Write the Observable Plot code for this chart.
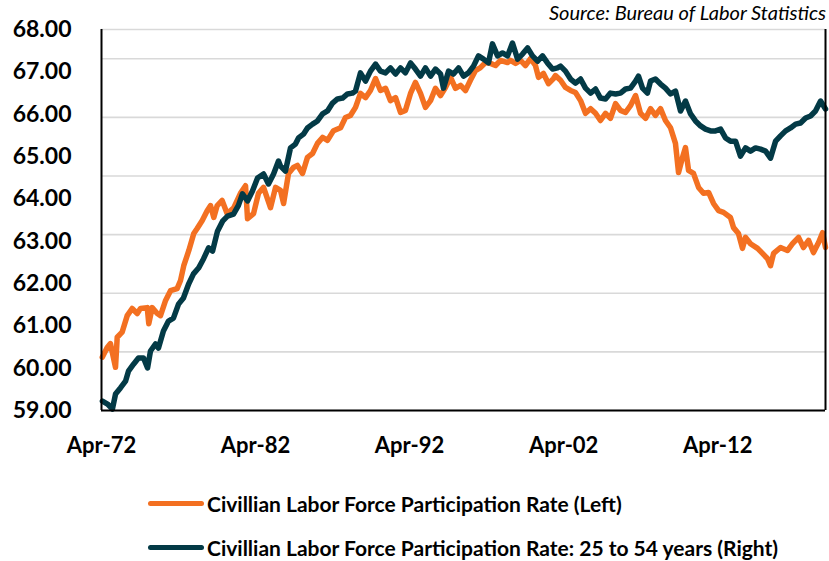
<!DOCTYPE html>
<html><head><meta charset="utf-8">
<script src="https://cdn.jsdelivr.net/npm/d3@7"></script>
<script src="https://cdn.jsdelivr.net/npm/@observablehq/plot@0.6"></script>
<style>
body{margin:0;background:#fff;font-family:Lato,"Open Sans",sans-serif;}
#wrap{position:relative;width:829px;height:561px;overflow:hidden;}
#source{position:absolute;right:3px;top:0px;font-style:italic;font-size:20px;color:#000;font-family:Lato,sans-serif;}
.row{position:absolute;left:148px;height:26px;display:flex;align-items:center;font-weight:bold;font-size:21px;color:#000;white-space:nowrap;}
.sw{width:56px;height:5px;border-radius:3px;margin-right:3px;}
</style></head>
<body><div id="wrap"><div id="chart"></div><div id="source">Source: Bureau of Labor Statistics</div><div id="legend"></div></div>
<script>
// ---- data ----
const seriesNames = ["Civillian Labor Force Participation Rate (Left)", "Civillian Labor Force Participation Rate: 25 to 54 years (Right)"];
const seriesColors = ["#F37021", "#033A46"];

const xTickYears = [1972.25, 1982.25, 1992.25, 2002.25, 2012.25];
const xTickLabels = ["Apr-72", "Apr-82", "Apr-92", "Apr-02", "Apr-12"];
const leftTicks = [59, 60, 61, 62, 63, 64, 65, 66, 67, 68];
const rightGridTicks = [72, 74, 76, 78, 80, 82, 84, 85];

const orangeYears = [1972.30,1972.62,1972.83,1973.16,1973.27,1973.59,1973.92,1974.24,1974.57,1974.78,
1975.22,1975.32,1975.54,1975.87,1976.08,1976.41,1976.73,1977.16,1977.38,1977.59,
1977.92,1978.24,1978.46,1978.79,1979.11,1979.33,1979.54,1979.76,1980.08,1980.41,
1980.84,1981.27,1981.60,1981.73,1982.12,1982.44,1982.77,1983.22,1983.55,1983.87,
1984.07,1984.39,1984.71,1984.97,1985.30,1985.62,1985.95,1986.27,1986.60,1986.92,
1987.31,1987.77,1988.09,1988.41,1988.74,1989.06,1989.39,1989.71,1990.04,1990.36,
1990.69,1991.01,1991.34,1991.66,1991.98,1992.31,1992.63,1992.96,1993.28,1993.61,
1993.93,1994.26,1994.58,1994.91,1995.23,1995.56,1995.88,1996.20,1996.53,1996.85,
1997.18,1997.50,1997.83,1998.15,1998.61,1998.80,1999.13,1999.45,1999.77,2000.10,
2000.42,2000.62,2000.94,2001.27,2001.59,2001.72,2002.05,2002.37,2002.70,2003.02,
2003.35,2003.67,2004.00,2004.32,2004.64,2004.97,2005.29,2005.62,2005.94,2006.27,
2006.59,2006.92,2007.24,2007.57,2007.89,2008.21,2008.54,2008.86,2009.19,2009.51,
2009.71,2009.97,2010.16,2010.36,2010.68,2011.01,2011.33,2011.66,2011.98,2012.31,
2012.63,2013.08,2013.28,2013.60,2013.86,2014.06,2014.38,2014.84,2015.16,2015.48,
2015.68,2015.88,2016.33,2016.78,2017.11,2017.50,2017.82,2018.15,2018.47,2018.80,
2019.06,2019.25];
const orangeValues = [60.26,60.49,60.58,60.02,60.73,60.85,61.24,61.41,61.29,61.41,
61.43,61.05,61.43,61.29,61.24,61.60,61.83,61.88,62.07,62.42,
62.78,63.18,63.30,63.49,63.72,63.84,63.56,63.84,63.96,63.65,
63.79,64.13,64.31,63.53,63.65,64.13,64.27,63.79,64.27,64.20,
63.89,64.60,64.74,64.79,64.60,64.98,65.07,65.31,65.45,65.38,
65.61,65.68,65.92,65.97,66.16,66.49,66.39,66.56,66.84,66.56,
66.61,66.32,66.39,66.04,66.09,66.49,66.75,66.49,66.16,66.32,
66.61,66.44,66.63,66.87,66.61,66.68,66.56,66.80,67.03,67.10,
67.22,67.20,67.15,67.27,67.22,67.27,67.20,67.27,67.15,67.31,
67.15,66.87,66.96,66.72,66.84,66.91,66.80,66.63,66.56,66.51,
66.32,66.02,66.13,66.02,65.85,66.02,65.90,66.25,66.09,66.04,
66.20,66.44,66.02,65.90,66.13,65.97,66.13,65.85,65.68,65.31,
64.62,64.98,65.21,64.67,64.60,64.27,64.13,64.15,63.89,63.72,
63.68,63.56,63.32,63.18,62.83,63.09,62.94,62.83,62.71,62.59,
62.42,62.71,62.85,62.78,62.94,63.09,62.85,63.02,62.73,62.97,
63.20,62.85];

const darkYears = [1972.31,1972.64,1972.96,1973.16,1973.48,1973.81,1974.00,1974.33,1974.65,1974.98,
1975.24,1975.43,1975.76,1975.95,1976.27,1976.60,1976.92,1977.25,1977.57,1977.90,
1978.22,1978.55,1978.87,1979.20,1979.46,1979.78,1980.11,1980.43,1980.82,1981.14,
1981.40,1981.73,1982.05,1982.38,1982.77,1983.09,1983.42,1983.74,1983.87,1984.19,
1984.52,1984.84,1985.04,1985.36,1985.62,1985.95,1986.27,1986.60,1986.92,1987.25,
1987.57,1987.90,1988.22,1988.54,1988.74,1989.06,1989.39,1989.71,1990.04,1990.36,
1990.69,1991.01,1991.34,1991.66,1991.98,1992.31,1992.63,1992.96,1993.28,1993.61,
1993.93,1994.26,1994.45,1994.78,1995.10,1995.43,1995.75,1996.07,1996.40,1996.72,
1997.05,1997.37,1997.63,1997.96,1998.28,1998.61,1998.93,1999.26,1999.58,1999.91,
2000.23,2000.56,2000.88,2001.20,2001.53,2001.85,2002.05,2002.37,2002.70,2003.02,
2003.35,2003.67,2004.00,2004.32,2004.64,2004.97,2005.29,2005.62,2005.94,2006.27,
2006.59,2006.92,2007.11,2007.37,2007.69,2007.89,2008.21,2008.54,2008.86,2009.19,
2009.51,2009.84,2010.16,2010.49,2010.81,2011.14,2011.46,2011.79,2012.11,2012.44,
2012.76,2013.08,2013.41,2013.73,2014.06,2014.38,2014.71,2015.03,2015.36,2015.68,
2016.01,2016.33,2016.66,2016.98,2017.31,2017.63,2017.96,2018.28,2018.60,2018.93,
2019.25];
const darkValues = [72.32,72.22,72.05,72.56,72.77,73.00,73.34,73.58,73.79,73.79,
73.45,74.03,74.27,74.13,74.71,75.05,75.15,75.63,75.84,76.31,
76.66,76.86,77.17,77.55,77.44,78.12,78.46,78.63,78.70,79.00,
79.39,79.15,79.49,79.93,80.07,79.73,80.07,80.51,80.34,80.17,
80.96,81.09,81.30,81.43,81.64,81.77,81.88,82.12,82.22,82.49,
82.63,82.66,82.80,82.83,82.90,83.52,83.24,83.58,83.82,83.58,
83.52,83.69,83.48,83.69,83.52,83.86,83.65,83.41,83.69,83.41,
83.65,83.48,83.00,83.58,83.48,83.69,83.41,83.52,83.75,84.10,
83.99,83.86,84.51,84.10,84.20,84.10,84.54,83.99,84.16,84.37,
84.10,83.92,84.10,83.86,83.65,83.69,83.75,83.58,83.31,83.17,
83.31,83.00,82.83,82.97,82.66,82.63,82.83,82.80,82.83,82.97,
83.00,83.24,83.41,83.00,82.83,83.24,83.31,83.14,83.00,82.80,
82.90,82.22,82.56,82.12,81.88,81.71,81.60,81.54,81.54,81.60,
81.30,81.19,81.19,80.68,80.96,80.85,80.96,80.92,80.85,80.61,
81.19,81.37,81.54,81.64,81.77,81.81,81.98,82.05,82.22,82.56,
82.29];

// ---- scales (left axis 59..68, hidden right axis 72..85) ----
const leftDomain = [59, 68];
const rightDomain = [72, 85];
const toLeft = r => leftDomain[0] + (r - rightDomain[0]) * (leftDomain[1] - leftDomain[0]) / (rightDomain[1] - rightDomain[0]);
const xDomain = [1972.25, 2019.25];

const orange = orangeYears.map((t, i) => ({t, v: orangeValues[i]}));
const dark = darkYears.map((t, i) => ({t, v: toLeft(darkValues[i])}));

const chart = Plot.plot({
  width: 829,
  height: 460,
  marginLeft: 101,
  marginRight: 4,
  marginTop: 29,
  marginBottom: 50,
  style: {fontFamily: "Lato, 'Open Sans', sans-serif", background: "#fff", color: "#000"},
  x: {domain: xDomain, axis: null},
  y: {domain: leftDomain, axis: null},
  marks: [
    Plot.ruleY(rightGridTicks.map(toLeft), {stroke: "#d9d9d9", strokeWidth: 1.6}),
    Plot.line(orange, {x: "t", y: "v", stroke: seriesColors[0], strokeWidth: 5.5, strokeLinejoin: "round", strokeLinecap: "round"}),
    Plot.line(dark, {x: "t", y: "v", stroke: seriesColors[1], strokeWidth: 5.5, strokeLinejoin: "round", strokeLinecap: "round"}),
    Plot.ruleX([xDomain[0]], {stroke: "#000", strokeWidth: 2}),
    Plot.ruleX([xDomain[1]], {stroke: "#000", strokeWidth: 2}),
    Plot.ruleY([leftDomain[0]], {stroke: "#000", strokeWidth: 2}),
    Plot.axisY({ticks: leftTicks, tickFormat: d => d.toFixed(2), tickSize: 0, tickPadding: 30, fontSize: 23, fontWeight: "bold", label: null}),
    Plot.axisX({ticks: xTickYears, tickFormat: d => xTickLabels[xTickYears.indexOf(d)], tickSize: 0, tickPadding: 27, fontSize: 22, fontWeight: "bold", label: null})
  ]
});
document.getElementById("chart").appendChild(chart);

const legend = document.getElementById("legend");
const rowCenters = [503, 547];
seriesNames.forEach((name, i) => {
  const row = document.createElement("div");
  row.className = "row";
  row.style.top = (rowCenters[i] - 13) + "px";
  const sw = document.createElement("div");
  sw.className = "sw";
  sw.style.background = seriesColors[i];
  row.appendChild(sw);
  const tx = document.createElement("span");
  tx.textContent = name;
  row.appendChild(tx);
  legend.appendChild(row);
});
</script></body></html>
